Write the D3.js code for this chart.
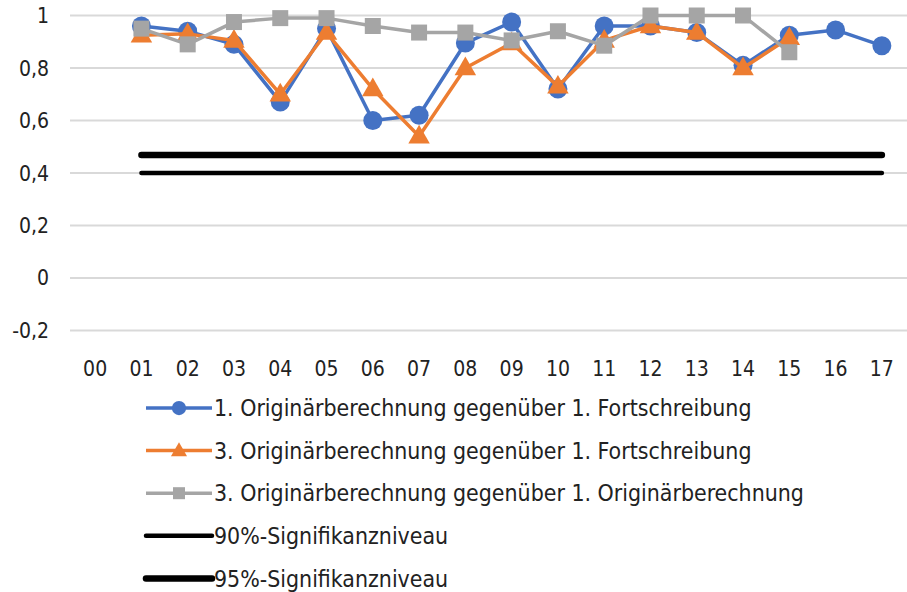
<!DOCTYPE html>
<html><head><meta charset="utf-8">
<script src="https://cdn.jsdelivr.net/npm/d3@7"></script>
<style>
html,body{margin:0;padding:0;background:#fff;}
text{font-family:"Liberation Sans Narrow","DejaVu Sans Condensed","Roboto Condensed","Open Sans",sans-serif;fill:#222;}
</style></head>
<body>
<svg id="c" width="907" height="592"></svg>
<script>
const categories = ["00","01","02","03","04","05","06","07","08","09","10","11","12","13","14","15","16","17"];
const yTicks = [-0.2, 0, 0.2, 0.4, 0.6, 0.8, 1];
const yTickLabels = ["-0,2","0","0,2","0,4","0,6","0,8","1"];
const series1 = [null,0.96,0.94,0.89,0.67,0.95,0.60,0.62,0.895,0.975,0.72,0.96,0.96,0.935,0.81,0.925,0.945,0.885];
const series2 = [null,0.925,0.93,0.905,0.70,0.935,0.72,0.54,0.80,0.895,0.73,0.905,0.96,0.935,0.80,0.915,null,null];
const series3 = [null,0.95,0.89,0.975,0.99,0.99,0.96,0.935,0.935,0.905,0.94,0.885,1.0,1.0,1.0,0.86,null,null];
const sig90 = [null,0.4,0.4,0.4,0.4,0.4,0.4,0.4,0.4,0.4,0.4,0.4,0.4,0.4,0.4,0.4,0.4,0.4];
const sig95 = [null,0.468,0.468,0.468,0.468,0.468,0.468,0.468,0.468,0.468,0.468,0.468,0.468,0.468,0.468,0.468,0.468,0.468];
const names = ["1. Originärberechnung gegenüber 1. Fortschreibung","3. Originärberechnung gegenüber 1. Fortschreibung","3. Originärberechnung gegenüber 1. Originärberechnung","90%-Signifikanzniveau","95%-Signifikanzniveau"];

const svg = d3.select("#c");
const x = d3.scaleBand().domain(categories).range([72, 905]);
const y = d3.scaleLinear().domain([-0.2, 1]).range([330.4, 15.5]);
const cx = c => x(c) + x.bandwidth()/2;

// gridlines
svg.append("g").selectAll("line").data(yTicks).join("line")
  .attr("x1", 70).attr("x2", 907).attr("y1", d=>y(d)).attr("y2", d=>y(d))
  .attr("stroke", "#d9d9d9").attr("stroke-width", 2);
// y labels
svg.append("g").selectAll("text").data(yTicks).join("text")
  .attr("x", 49).attr("y", d=>y(d)).attr("dy","0.36em").attr("text-anchor","end")
  .attr("font-size", 21).text((d,i) => yTickLabels[i]);
// x labels
svg.append("g").selectAll("text").data(categories).join("text")
  .attr("x", d=>cx(d)).attr("y", 368).attr("dy","0.36em").attr("text-anchor","middle")
  .attr("font-size", 21).text(d=>d);

const styles = [
  {data: series1, color:"#4472c4", w:3.5, marker:"circle"},
  {data: series2, color:"#ed7d31", w:3.5, marker:"triangle"},
  {data: series3, color:"#a5a5a5", w:3.5, marker:"square"},
  {data: sig90, color:"#000", w:4.5, marker:null},
  {data: sig95, color:"#000", w:6.5, marker:null}
];
function drawMarker(g, type, color, px, py, s) {
  if (type === "circle") g.append("circle").attr("cx",px).attr("cy",py).attr("r",9.5*s).attr("fill",color);
  else if (type === "triangle") g.append("path").attr("d", d3.symbol().type(d3.symbolTriangle).size(200*s*s)()).attr("transform",`translate(${px},${py+1})`).attr("fill",color);
  else if (type === "square") g.append("rect").attr("x",px-8*s).attr("y",py-8*s).attr("width",16*s).attr("height",16*s).attr("fill",color);
}
styles.forEach(st => {
  const pts = categories.map((c,i)=>({c, v: st.data[i]})).filter(p=>p.v!=null);
  const g = svg.append("g");
  g.append("path").datum(pts)
    .attr("d", d3.line().x(p=>cx(p.c)).y(p=>y(p.v)))
    .attr("fill","none").attr("stroke", st.color).attr("stroke-width", st.w)
    .attr("stroke-linecap", st.marker ? "butt" : "round").attr("stroke-linejoin","round");
  if (st.marker) pts.forEach(p => drawMarker(g, st.marker, st.color, cx(p.c), y(p.v), 1));
});

// legend
const ly0 = 408, ldy = 42.6;
styles.forEach((st, i) => {
  const g = svg.append("g");
  const yy = ly0 + i*ldy;
  g.append("line").attr("x1",146).attr("x2",212).attr("y1",yy).attr("y2",yy)
    .attr("stroke", st.color).attr("stroke-width", st.w).attr("stroke-linecap", st.marker?"butt":"round");
  if (st.marker) drawMarker(g, st.marker, st.color, 179, yy, 0.75);
  g.append("text").attr("x", 214).attr("y", yy).attr("dy","0.36em").attr("font-size", 22.9).text(names[i]);
});
</script>
</body></html>
